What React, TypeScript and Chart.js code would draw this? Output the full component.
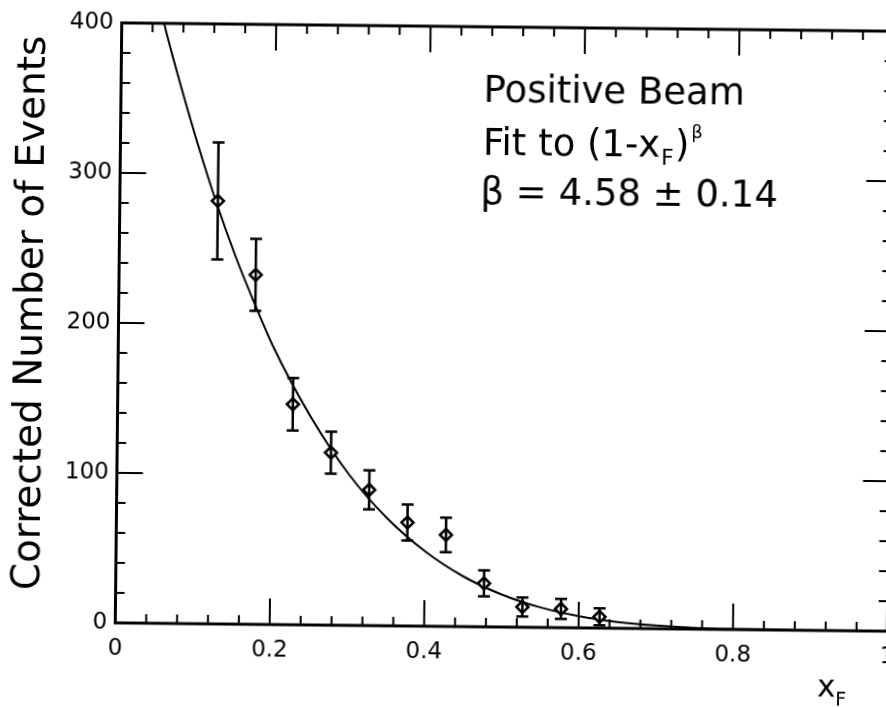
import React, { useEffect, useRef } from "react";
import { Chart, registerables } from "chart.js";

Chart.register(...registerables);

// ---- data ----
const xValues = [0.127, 0.177, 0.227, 0.277, 0.327, 0.377, 0.427, 0.477, 0.527, 0.577, 0.627];
const eventCounts = [282, 233, 147, 115, 90.5, 69, 61, 29, 13.5, 12.5, 7.5];
const errorValues = [39, 24, 17.5, 14, 13, 12, 11.5, 8.7, 6.3, 6.7, 5.6];

const fitX = [0.04, 0.06, 0.08, 0.1, 0.125, 0.15, 0.175, 0.2, 0.25, 0.3, 0.35, 0.4, 0.45, 0.5, 0.55, 0.6, 0.65, 0.7, 0.75, 0.8, 0.85, 0.9, 1.0];
const fitY = [430, 390, 354, 320, 281, 246, 215, 186, 139, 101, 72, 50, 33.5, 21.7, 13.4, 7.8, 4.2, 2.1, 0.9, 0.3, 0.1, 0, 0];

const xTickLabels = ["0", "0.2", "0.4", "0.6", "0.8", "1"];
const yTickLabels = ["0", "100", "200", "300", "400"];

const yTitle = "Corrected Number of Events";
const annotationLine1 = "Positive Beam";
const annotationLine2 = ["Fit to (1-x", "F", ")", "β"];
const annotationLine3 = "β = 4.58 ± 0.14";
const xTitle = ["x", "F"];

const FONT = "'DejaVu Sans', sans-serif";

const decorPlugin = {
  id: "decor",
  afterDatasetsDraw(chart: any) {
    const ctx = chart.ctx;
    const xs = chart.scales.x;
    const ys = chart.scales.y;
    ctx.save();
    ctx.strokeStyle = "#000";
    ctx.lineWidth = 2.5;
    const cap = 6;
    for (let i = 0; i < xValues.length; i++) {
      const px = xs.getPixelForValue(xValues[i]);
      const pTop = ys.getPixelForValue(eventCounts[i] + errorValues[i]);
      const pBot = ys.getPixelForValue(eventCounts[i] - errorValues[i]);
      ctx.beginPath();
      ctx.moveTo(px, pTop);
      ctx.lineTo(px, pBot);
      ctx.moveTo(px - cap, pTop);
      ctx.lineTo(px + cap, pTop);
      ctx.moveTo(px - cap, pBot);
      ctx.lineTo(px + cap, pBot);
      ctx.stroke();
    }
    ctx.restore();
  },
  afterDraw(chart: any) {
    const ctx = chart.ctx;
    const { left, right, top, bottom } = chart.chartArea;
    const xs = chart.scales.x;
    const ys = chart.scales.y;
    ctx.save();
    ctx.strokeStyle = "#000";
    ctx.lineWidth = 3;
    ctx.strokeRect(left, top, right - left, bottom - top);

    ctx.lineWidth = 2;
    ctx.beginPath();
    for (let i = 0; i <= 25; i++) {
      const v = i * 0.04;
      const len = i % 5 === 0 ? 26 : 9;
      const px = xs.getPixelForValue(v);
      ctx.moveTo(px, bottom);
      ctx.lineTo(px, bottom - len);
      ctx.moveTo(px, top);
      ctx.lineTo(px, top + len);
    }
    for (let i = 0; i <= 20; i++) {
      const v = i * 20;
      const len = i % 5 === 0 ? 26 : 9;
      const py = ys.getPixelForValue(v);
      ctx.moveTo(left, py);
      ctx.lineTo(left + len, py);
      ctx.moveTo(right, py);
      ctx.lineTo(right - len, py);
    }
    ctx.stroke();

    ctx.fillStyle = "#000";
    // y title
    ctx.save();
    ctx.translate(42, 318);
    ctx.rotate(-Math.PI / 2);
    ctx.font = `39px ${FONT}`;
    ctx.textAlign = "center";
    ctx.textBaseline = "alphabetic";
    ctx.fillText(yTitle, 0, 0);
    ctx.restore();

    // annotation
    ctx.textAlign = "left";
    ctx.textBaseline = "alphabetic";
    const ax = 481;
    ctx.font = `37px ${FONT}`;
    ctx.fillText(annotationLine1, ax, 102);

    let cx = ax;
    ctx.font = `37px ${FONT}`;
    ctx.fillText(annotationLine2[0], cx, 155);
    cx += ctx.measureText(annotationLine2[0]).width;
    ctx.font = `22px ${FONT}`;
    ctx.fillText(annotationLine2[1], cx + 1, 163);
    cx += ctx.measureText(annotationLine2[1]).width + 2;
    ctx.font = `37px ${FONT}`;
    ctx.fillText(annotationLine2[2], cx, 155);
    cx += ctx.measureText(annotationLine2[2]).width + 2;
    ctx.font = `18px ${FONT}`;
    ctx.fillText(annotationLine2[3], cx, 136);

    ctx.font = `37px ${FONT}`;
    ctx.fillText(annotationLine3, ax - 2, 204);

    // x title
    ctx.font = `31px ${FONT}`;
    ctx.fillText(xTitle[0], 821, 693);
    const w = ctx.measureText(xTitle[0]).width;
    ctx.font = `19px ${FONT}`;
    ctx.fillText(xTitle[1], 821 + w, 702);

    ctx.restore();
  },
};

export default function App() {
  const ref = useRef<HTMLCanvasElement | null>(null);

  useEffect(() => {
    if (!ref.current) return;
    const chart = new Chart(ref.current, {
      type: "scatter",
      data: {
        datasets: [
          {
            type: "line",
            label: "fit",
            data: fitX.map((x, i) => ({ x, y: fitY[i] })),
            borderColor: "#000",
            borderWidth: 2,
            pointRadius: 0,
            fill: false,
            cubicInterpolationMode: "monotone",
            order: 2,
          } as any,
          {
            type: "scatter",
            label: "data",
            data: xValues.map((x, i) => ({ x, y: eventCounts[i] })),
            pointStyle: "rectRot",
            pointRadius: 6,
            pointBackgroundColor: "#fff",
            pointBorderColor: "#000",
            pointBorderWidth: 2.5,
            order: 1,
          } as any,
        ],
      },
      options: {
        responsive: false,
        animation: false,
        devicePixelRatio: 1,
        layout: { padding: { left: 0, right: 10, top: 27, bottom: 0 } },
        plugins: {
          legend: { display: false },
          tooltip: { enabled: false },
        },
        scales: {
          x: {
            type: "linear",
            min: 0,
            max: 1,
            grid: { display: false, drawTicks: false },
            border: { display: false },
            ticks: {
              stepSize: 0.2,
              autoSkip: false,
              maxRotation: 0,
              padding: 12,
              color: "#000",
              font: { family: FONT, size: 23 },
              callback: (v: any) => xTickLabels[Math.round(Number(v) / 0.2)] ?? "",
            },
            afterFit: (s: any) => {
              s.height = 80;
            },
          },
          y: {
            type: "linear",
            min: 0,
            max: 400,
            grid: { display: false, drawTicks: false },
            border: { display: false },
            ticks: {
              stepSize: 100,
              padding: 8,
              color: "#000",
              font: { family: FONT, size: 23 },
              callback: (v: any) => yTickLabels[Math.round(Number(v) / 100)] ?? "",
            },
            afterFit: (s: any) => {
              s.width = 118.5;
            },
          },
        },
      },
      plugins: [decorPlugin],
    });
    return () => chart.destroy();
  }, []);

  return (
    <div
      style={{
        position: "fixed",
        left: 0,
        top: 0,
        width: 886,
        height: 707,
        overflow: "hidden",
        background: "#fff",
      }}
    >
      <canvas
        ref={ref}
        width={910}
        height={707}
        style={{
          display: "block",
          width: 910,
          height: 707,
          transform: "rotate(0.62deg)",
          transformOrigin: "500px 326px",
        }}
      />
    </div>
  );
}
